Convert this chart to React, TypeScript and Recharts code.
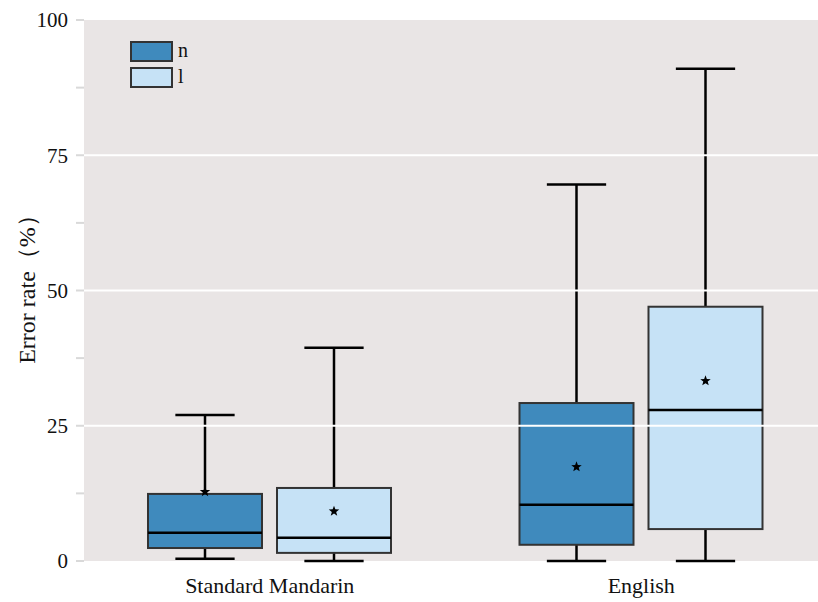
import { ComposedChart, Bar, XAxis, YAxis, CartesianGrid, ReferenceLine } from "recharts";

const categories = ["Standard Mandarin", "English"];

// n (dark blue)
const nMin = [0.4, 0];
const nQ1 = [2.4, 3.0];
const nMedian = [5.2, 10.4];
const nQ3 = [12.4, 29.2];
const nMax = [27.0, 69.6];
const nMean = [12.8, 17.4];

// l (light blue)
const lMin = [0, 0];
const lQ1 = [1.5, 5.9];
const lMedian = [4.3, 27.9];
const lQ3 = [13.5, 47.0];
const lMax = [39.4, 91.0];
const lMean = [9.2, 33.3];

const yTicks = [0, 12.5, 25, 37.5, 50, 62.5, 75, 87.5, 100];
const gridValues = [25, 50, 75];
const seriesNames = ["n", "l"];

const DARK = "#3f8abd";
const LIGHT = "#c6e2f6";
const FONT = "'Liberation Serif', 'Times New Roman', serif";

const data = categories.map((name, i) => ({
  name,
  nRange: [nMin[i], nMax[i]],
  lRange: [lMin[i], lMax[i]],
  n: { min: nMin[i], q1: nQ1[i], med: nMedian[i], q3: nQ3[i], max: nMax[i], mean: nMean[i] },
  l: { min: lMin[i], q1: lQ1[i], med: lMedian[i], q3: lQ3[i], max: lMax[i], mean: lMean[i] },
}));

function starPath(cx: number, cy: number, r: number) {
  const pts: string[] = [];
  for (let k = 0; k < 10; k++) {
    const rad = k % 2 === 0 ? r : r * 0.42;
    const a = -Math.PI / 2 + (k * Math.PI) / 5;
    pts.push(`${cx + rad * Math.cos(a)},${cy + rad * Math.sin(a)}`);
  }
  return `M${pts.join("L")}Z`;
}

const makeBox = (key: "n" | "l", fill: string) => (props: any) => {
  const { x, y, width, height, payload } = props;
  const s = payload[key];
  const top = Math.min(y, y + height);
  const bot = Math.max(y, y + height);
  const toY = (v: number) => bot - ((bot - top) * (v - s.min)) / (s.max - s.min);
  const cx = x + width / 2;
  const cap = width * 0.26;
  return (
    <g>
      <line x1={cx} x2={cx} y1={toY(s.max)} y2={toY(s.q3)} stroke="#000" strokeWidth={2.5} />
      <line x1={cx} x2={cx} y1={toY(s.q1)} y2={toY(s.min)} stroke="#000" strokeWidth={2.5} />
      <line x1={cx - cap} x2={cx + cap} y1={toY(s.max)} y2={toY(s.max)} stroke="#000" strokeWidth={2.5} />
      <line x1={cx - cap} x2={cx + cap} y1={toY(s.min)} y2={toY(s.min)} stroke="#000" strokeWidth={2.5} />
      <rect
        x={x}
        y={toY(s.q3)}
        width={width}
        height={toY(s.q1) - toY(s.q3)}
        fill={fill}
        stroke="#333"
        strokeWidth={2}
      />
      <line x1={x} x2={x + width} y1={toY(s.med)} y2={toY(s.med)} stroke="#000" strokeWidth={2.5} />
      <path d={starPath(cx, toY(s.mean), 5.5)} fill="#000" />
    </g>
  );
};

const LegendBox = () => (
  <div
    style={{
      position: "absolute",
      left: 130,
      top: 38,
      fontFamily: FONT,
      fontSize: 20,
      color: "#111",
    }}
  >
    {seriesNames.map((label, i) => (
      <div key={label} style={{ display: "flex", alignItems: "center", height: 26 }}>
        <div
          style={{
            width: 39,
            height: 17,
            background: i === 0 ? DARK : LIGHT,
            border: "2.5px solid #333",
            marginRight: 5,
          }}
        />
        <span style={{ lineHeight: "20px", marginTop: -2 }}>{label}</span>
      </div>
    ))}
  </div>
);

const YLabel = (props: any) => {
  const { viewBox } = props;
  const cx = 27;
  const cy = viewBox.y + viewBox.height / 2 - 7;
  return (
    <text
      x={cx}
      y={cy}
      transform={`rotate(-90, ${cx}, ${cy})`}
      textAnchor="middle"
      dominantBaseline="central"
      fontFamily={FONT}
      fontSize={24}
      fill="#111"
    >
      Error rate（%）
    </text>
  );
};

export default function App() {
  return (
    <div style={{ position: "absolute", left: 0, top: 0, width: 818, height: 602, overflow: "hidden", background: "#fff" }}>
      <ComposedChart
        width={827}
        height={602}
        data={data}
        margin={{ top: 20, right: 0, bottom: 6, left: 0 }}
        barSize={114}
        barGap={15}
      >
        <CartesianGrid fill="#e9e5e5" horizontal={false} vertical={false} stroke="none" />
        {gridValues.map((v) => (
          <ReferenceLine key={v} y={v} stroke="#ffffff" strokeWidth={2} />
        ))}
        <XAxis
          dataKey="name"
          axisLine={false}
          tickLine={false}
          height={35}
          tickSize={6}
          tickMargin={10}
          tick={{ fontFamily: FONT, fontSize: 22, fill: "#111" }}
        />
        <YAxis
          width={84}
          domain={[0, 100]}
          ticks={yTicks}
          interval={0}
          axisLine={false}
          tickSize={8}
          tickMargin={8}
          tickLine={{ stroke: "#d9d9d9", strokeWidth: 2 }}
          tickFormatter={(v: number) => (v % 25 === 0 ? String(v) : "")}
          tick={{ fontFamily: FONT, fontSize: 21, fill: "#111" }}
          label={<YLabel />}
        />
        <Bar dataKey="nRange" name="n" fill={DARK} shape={makeBox("n", DARK)} isAnimationActive={false} />
        <Bar dataKey="lRange" name="l" fill={LIGHT} shape={makeBox("l", LIGHT)} isAnimationActive={false} />
      </ComposedChart>
      <LegendBox />
    </div>
  );
}
